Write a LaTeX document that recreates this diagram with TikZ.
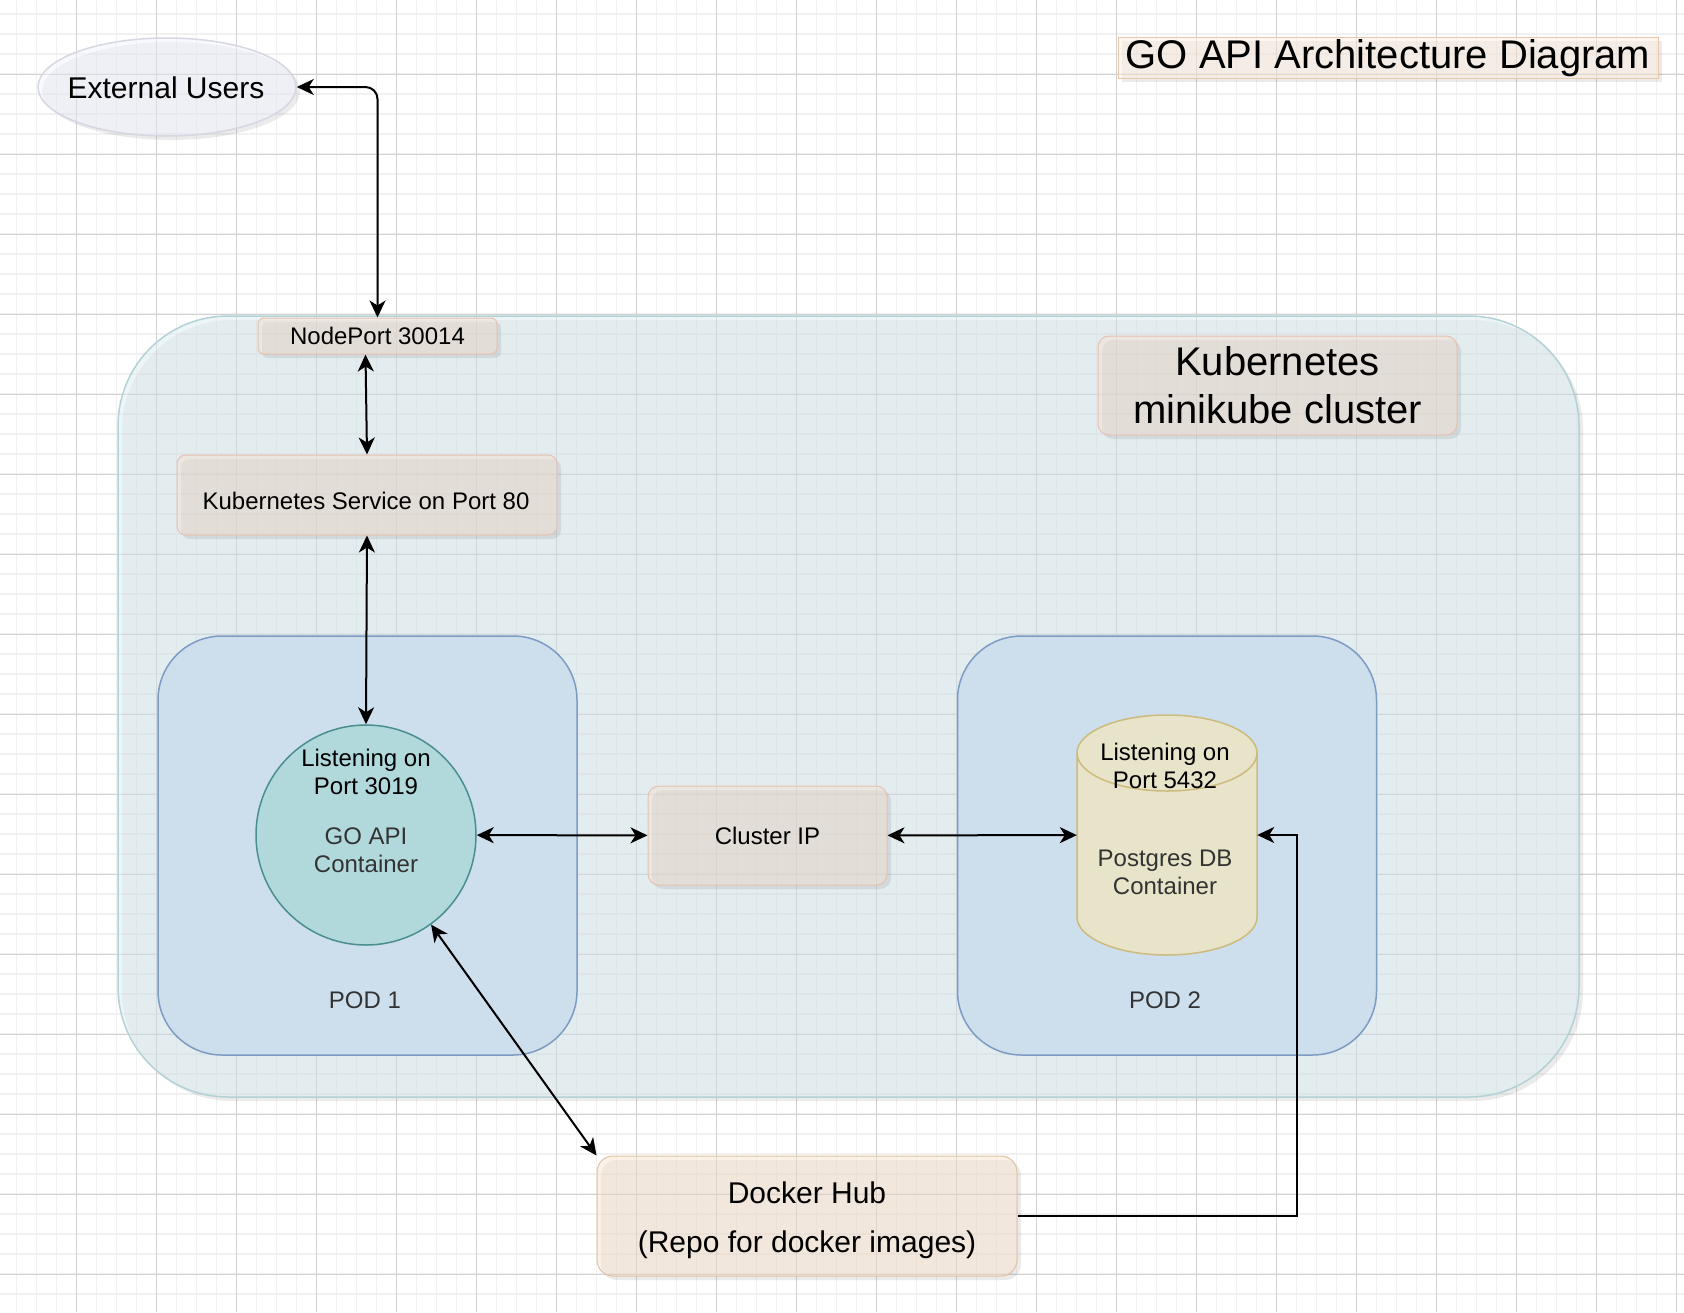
\documentclass[tikz,border=0pt]{standalone}
\usepackage{fontspec}
\setmainfont{Liberation Sans}
\usetikzlibrary{arrows.meta,shapes.geometric,shadows,positioning}

\definecolor{gridmajor}{HTML}{D2D2D2}
\definecolor{gridminor}{HTML}{F1F1F1}
\definecolor{clusterfill}{HTML}{DDEDF3}
\definecolor{clusterline}{HTML}{B2D2D6}
\definecolor{podfill}{HTML}{CDDEED}
\definecolor{podline}{HTML}{7D9CC4}
\definecolor{apifill}{HTML}{B1D9DC}
\definecolor{apiline}{HTML}{4A8E90}
\definecolor{dbfill}{HTML}{E7E4C9}
\definecolor{dbline}{HTML}{CDBB7D}
\definecolor{svcfill}{HTML}{F6E1D4}
\definecolor{svcline}{HTML}{E6C2B0}
\definecolor{hubfill}{HTML}{F9E5D1}
\definecolor{hubline}{HTML}{DFC2A2}
\definecolor{titlefill}{HTML}{FFEFE1}
\definecolor{titleline}{HTML}{E8C8A8}
\definecolor{userfill}{HTML}{F3F5FF}
\definecolor{userline}{HTML}{D6D7E2}
\definecolor{subtext}{HTML}{333333}

\newcommand{\fntsmall}{\fontsize{24}{28}\selectfont}
\newcommand{\fntmid}{\fontsize{30}{49}\selectfont}
\newcommand{\fntbig}{\fontsize{40}{48}\selectfont}

\begin{document}
\begin{tikzpicture}[x=1pt,y=-1pt,
    >={Stealth[length=17pt,width=16pt,inset=5pt]},
    gridfine/.style={draw=gridminor,line width=1.5pt},
    gridmain/.style={draw=gridmajor,line width=1pt},
    softshadow/.style={drop shadow={shadow xshift=4pt,shadow yshift=-4pt,opacity=0.08,fill=black}},
    lbl/.style={font=\fntsmall,align=center,inner sep=0pt},
    beige/.style={draw=svcline,fill=svcfill,fill opacity=0.5,text opacity=1,line width=1pt,
        rounded corners=9pt,inner sep=0pt,align=center,font=\fntsmall,softshadow},
    podbox/.style={draw=podline,fill=podfill,line width=1.5pt,rounded corners=64pt,
        minimum width=419pt,minimum height=419pt},
    link/.style={draw=black,line width=2pt,<->},
    oneway/.style={draw=black,line width=2pt,->},
]
% 背景网格
\fill[white] (0,0) rectangle (1684,1312);
\useasboundingbox (0,0) rectangle (1684,1312);
\foreach \gx in {16.5,36.5,...,1684} \draw[gridfine] (\gx,0) -- (\gx,1312);
\foreach \gy in {14,34,...,1312} \draw[gridfine] (0,\gy) -- (1684,\gy);
\foreach \gx in {76.5,156.5,...,1684} \draw[gridmain] (\gx,0) -- (\gx,1312);
\foreach \gy in {74,154,...,1312} \draw[gridmain] (0,\gy) -- (1684,\gy);

% 集群与两个 pod
\node[draw=clusterline,fill=clusterfill,fill opacity=0.5,line width=1.5pt,rounded corners=110pt,
    minimum width=1461pt,minimum height=781pt,softshadow] (cluster) at (848.5,706.5) {};
\node[podbox] (pod1) at (367.5,845.5) {};
\node[podbox] (pod2) at (1167,845.5) {};
\node[lbl,text=subtext] (pod1lbl) at (365,1000) {POD 1};
\node[lbl,text=subtext] (pod2lbl) at (1165,1000) {POD 2};

% 容器
\node[circle,draw=apiline,fill=apifill,line width=1.5pt,minimum size=220pt,inner sep=0pt] (api) at (366,835) {};
\node[lbl] (apiport) at (366,772) {Listening on\\Port 3019};
\node[lbl,text=subtext] (apiname) at (366,850) {GO API\\Container};
% 圆柱体：手画外形，节点只用来连线
\node[minimum width=180pt,minimum height=240pt,inner sep=0pt] (db) at (1167,835) {};
\filldraw[draw=dbline,fill=dbfill,line width=1.5pt]
    (1077,753) -- (1077,917) arc[start angle=180,end angle=0,x radius=90,y radius=38]
    -- (1257,753) arc[start angle=0,end angle=-180,x radius=90,y radius=38] -- cycle;
\draw[dbline,line width=1.5pt] (1257,753) arc[start angle=0,end angle=180,x radius=90,y radius=38];
\node[lbl] (dbport) at (1165,766) {Listening on\\Port 5432};
\node[lbl,text=subtext] (dbname) at (1165,872) {Postgres DB\\Container};

% 服务与标签
\node[beige,rounded corners=6pt,minimum width=239pt,minimum height=36pt] (np) at (377.5,336) {NodePort 30014};
\node[beige,minimum width=380pt,minimum height=80pt] (svc) at (367,495) {};
\node[lbl] (svclbl) at (366,500.5) {Kubernetes Service on Port 80};
\node[beige,rounded corners=11pt,minimum width=239pt,minimum height=99pt] (cip) at (767.5,835.5) {Cluster IP};
\node[beige,rounded corners=11pt,font=\fntbig,minimum width=359pt,minimum height=99pt] (k8s) at (1277.5,385.5)
    {Kubernetes\\minikube cluster};
\node[beige,draw=hubline,fill=hubfill,rounded corners=16pt,minimum width=420pt,minimum height=120pt] (dh) at (807,1216) {};
\node[lbl,font=\fntmid] (dhlbl) at (807,1220) {Docker Hub\\(Repo for docker images)};
\node[beige,draw=titleline,fill=titlefill,rounded corners=0pt,font=\fntbig,text height=29pt,text depth=8pt,
    minimum width=540pt,minimum height=41pt] (ttl) at (1388,57.5) {GO API Architecture Diagram};
\node[ellipse,draw=userline,fill=userfill,fill opacity=0.5,line width=1.5pt,inner sep=0pt,
    minimum width=258pt,minimum height=98pt,softshadow] (eu) at (167,87) {};
\node[font=\fontsize{30}{36}\selectfont,inner sep=0pt] (eulbl) at (166,88) {External Users};

% 连线
\draw[link,rounded corners=12pt] (eu.east) -| (np.north);
\draw[link] ([xshift=-12pt]np.south) -- (svc.north);
\draw[link] (svc.south) -- (api.north);
\draw[link] (api) -- (cip);
\draw[link] (cip) -- (db);
\draw[link] (api.-54) -- (dh.north west);
\coordinate (hubturn) at (1297,835);
\draw[oneway] (dh.east) -| (hubturn) -- (db);
\end{tikzpicture}
\end{document}
